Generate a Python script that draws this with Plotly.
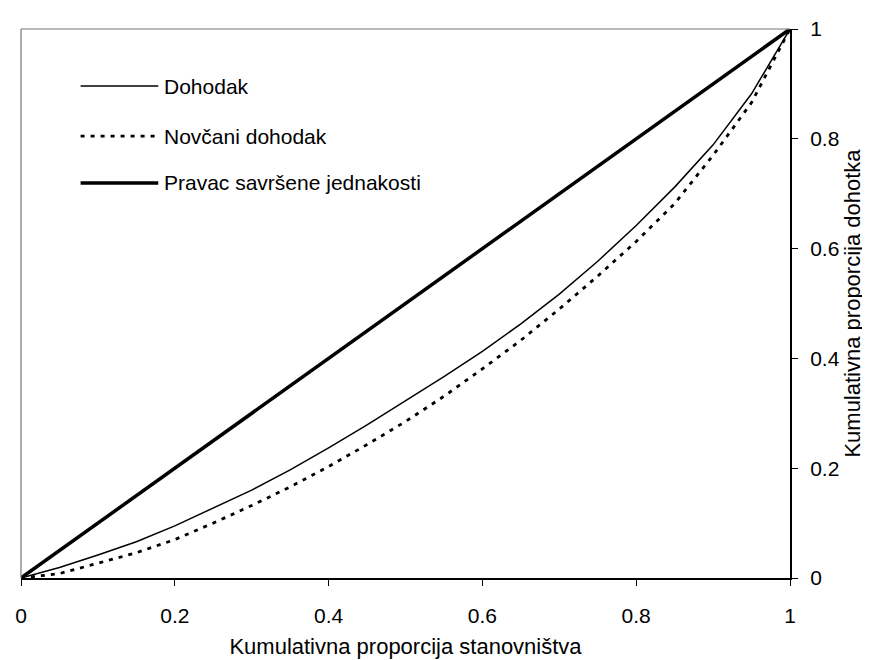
import plotly.graph_objects as go

# Cumulative share of population (x) and cumulative share of income (y)
population_share = [0, 0.05, 0.1, 0.15, 0.2, 0.25, 0.3, 0.35, 0.4, 0.45, 0.5,
                     0.55, 0.6, 0.65, 0.7, 0.75, 0.8, 0.85, 0.9, 0.95, 1]
income_share = [0, 0.019, 0.042, 0.066, 0.095, 0.127, 0.16, 0.197, 0.237, 0.279,
                0.323, 0.367, 0.413, 0.463, 0.517, 0.577, 0.642, 0.712, 0.789, 0.882, 1.0]
cash_income_share = [0, 0.008, 0.027, 0.046, 0.07, 0.1, 0.132, 0.166, 0.203, 0.243,
                     0.285, 0.331, 0.381, 0.433, 0.49, 0.55, 0.613, 0.682, 0.77, 0.866, 1.0]
equality_share = [0, 0.05, 0.1, 0.15, 0.2, 0.25, 0.3, 0.35, 0.4, 0.45, 0.5,
                  0.55, 0.6, 0.65, 0.7, 0.75, 0.8, 0.85, 0.9, 0.95, 1]

series_names = ["Dohodak", "Novčani dohodak", "Pravac savršene jednakosti"]
tick_values = [0, 0.2, 0.4, 0.6, 0.8, 1]
tick_labels = ["0", "0.2", "0.4", "0.6", "0.8", "1"]

FONT = "Liberation Sans, Arial, sans-serif"
FS = 21
styles = [
    dict(color="black", width=1.5, dash="solid"),
    dict(color="black", width=2.8, dash="4px,6px"),
    dict(color="black", width=3.5, dash="solid"),
]

fig = go.Figure()
for name, ys, st in zip(series_names,
                        [income_share, cash_income_share, equality_share], styles):
    fig.add_trace(go.Scatter(x=population_share, y=ys, mode="lines", name=name,
                             line=st, showlegend=False))

# Hand-made legend in the upper left corner
legend_rows = [0.896, 0.805, 0.7195]
for name, st, yy in zip(series_names, styles, legend_rows):
    fig.add_shape(type="line", xref="paper", yref="paper",
                  x0=0.0775, x1=0.1785, y0=yy, y1=yy, line=st)
    fig.add_annotation(xref="paper", yref="paper", x=0.184, y=yy, text=name,
                       showarrow=False, xanchor="left", yanchor="middle",
                       font=dict(family=FONT, size=FS, color="black"))

# Thin grey frame on the top and left sides
frame = dict(color="#777777", width=1.2)
fig.add_shape(type="line", xref="paper", yref="paper", x0=0, x1=1, y0=1, y1=1, line=frame)
fig.add_shape(type="line", xref="paper", yref="paper", x0=0, x1=0, y0=0, y1=1, line=frame)

fig.update_layout(
    width=870,
    height=660,
    autosize=False,
    margin=dict(l=13, r=88, t=21, b=90),
    plot_bgcolor="white",
    paper_bgcolor="white",
    font=dict(family=FONT, size=FS, color="black"),
    xaxis=dict(
        range=[0, 1],
        automargin=False,
        tickvals=tick_values,
        ticktext=tick_labels,
        showgrid=False,
        zeroline=False,
        showline=True,
        linecolor="black",
        linewidth=1.5,
        ticks="outside",
        ticklen=6,
        tickcolor="black",
        ticklabelstandoff=12,
        title=dict(text="Kumulativna proporcija stanovništva", standoff=13,
                   font=dict(size=22)),
    ),
    yaxis=dict(
        range=[0, 1],
        automargin=False,
        side="right",
        tickvals=tick_values,
        ticktext=tick_labels,
        showgrid=False,
        zeroline=False,
        showline=True,
        linecolor="black",
        linewidth=2,
        ticks="outside",
        ticklen=6,
        tickcolor="black",
        ticklabelstandoff=8,
        title=dict(text="Kumulativna proporcija dohotka", standoff=0,
                   font=dict(size=22)),
    ),
)

fig.write_html("out.html")
